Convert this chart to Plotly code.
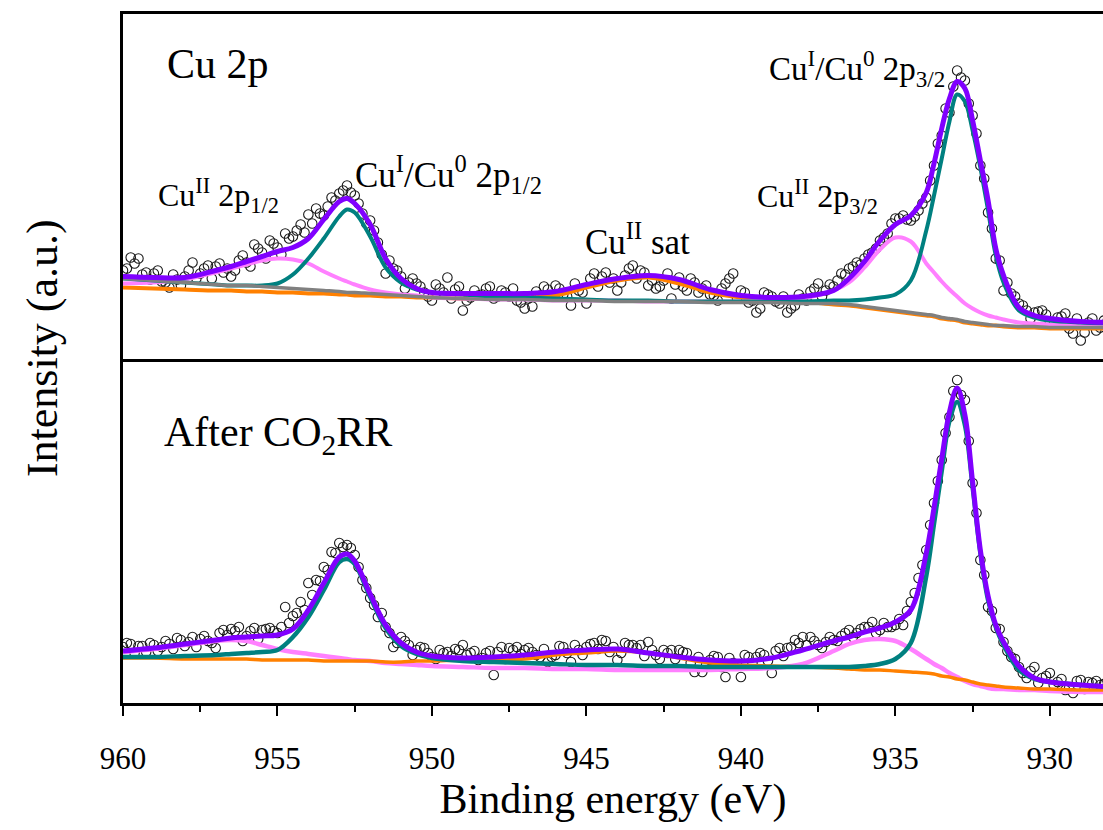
import plotly.graph_objects as go
from plotly.subplots import make_subplots

# ---------------- data ----------------
# measured scan, binding energy (eV) - points on the quarter-eV grid
E_SCAN = [960.0, 959.75, 959.5, 959.25, 959.0, 958.75, 958.5, 958.25, 958.0, 957.75,
          957.5, 957.25, 957.0, 956.75, 956.5, 956.25, 956.0, 955.75, 955.5, 955.25,
          955.0, 954.75, 954.5, 954.25, 954.0, 953.75, 953.5, 953.25, 953.0, 952.75,
          952.5, 952.25, 952.0, 951.75, 951.5, 951.25, 951.0, 950.75, 950.5, 950.25,
          950.0, 949.75, 949.5, 949.25, 949.0, 948.75, 948.5, 948.25, 948.0, 947.75,
          947.5, 947.25, 947.0, 946.75, 946.5, 946.25, 946.0, 945.75, 945.5, 945.25,
          945.0, 944.75, 944.5, 944.25, 944.0, 943.75, 943.5, 943.25, 943.0, 942.75,
          942.5, 942.25, 942.0, 941.75, 941.5, 941.25, 941.0, 940.75, 940.5, 940.25,
          940.0, 939.75, 939.5, 939.25, 939.0, 938.75, 938.5, 938.25, 938.0, 937.75,
          937.5, 937.25, 937.0, 936.75, 936.5, 936.25, 936.0, 935.75, 935.5, 935.25,
          935.0, 934.75, 934.5, 934.25, 934.0, 933.75, 933.5, 933.25, 933.0, 932.75,
          932.5, 932.25, 932.0, 931.75, 931.5, 931.25, 931.0, 930.75, 930.5, 930.25,
          930.0, 929.75, 929.5, 929.25, 929.0, 928.75, 928.5, 928.25, 928.0]

# measured scan, the points lying between the quarter-eV points
E_SCAN_MID = [959.875, 959.625, 959.375, 959.125, 958.875, 958.625, 958.375, 958.125, 957.875, 957.625,
              957.375, 957.125, 956.875, 956.625, 956.375, 956.125, 955.875, 955.625, 955.375, 955.125,
              954.875, 954.625, 954.375, 954.125, 953.875, 953.625, 953.375, 953.125, 952.875, 952.625,
              952.375, 952.125, 951.875, 951.625, 951.375, 951.125, 950.875, 950.625, 950.375, 950.125,
              949.875, 949.625, 949.375, 949.125, 948.875, 948.625, 948.375, 948.125, 947.875, 947.625,
              947.375, 947.125, 946.875, 946.625, 946.375, 946.125, 945.875, 945.625, 945.375, 945.125,
              944.875, 944.625, 944.375, 944.125, 943.875, 943.625, 943.375, 943.125, 942.875, 942.625,
              942.375, 942.125, 941.875, 941.625, 941.375, 941.125, 940.875, 940.625, 940.375, 940.125,
              939.875, 939.625, 939.375, 939.125, 938.875, 938.625, 938.375, 938.125, 937.875, 937.625,
              937.375, 937.125, 936.875, 936.625, 936.375, 936.125, 935.875, 935.625, 935.375, 935.125,
              934.875, 934.625, 934.375, 934.125, 933.875, 933.625, 933.375, 933.125, 932.875, 932.625,
              932.375, 932.125, 931.875, 931.625, 931.375, 931.125, 930.875, 930.625, 930.375, 930.125,
              929.875, 929.625, 929.375, 929.125, 928.875, 928.625, 928.375, 928.125]

# intensity (a.u.) of the measured points, upper panel (Cu 2p)
SCAN_TOP = [88, 101, 100, 86, 85, 77, 71, 79, 82, 96,
            85, 93, 92, 86, 82, 98, 96, 114, 106, 118,
            111, 125, 122, 134, 144, 150, 143, 161, 165, 173,
            163, 145, 138, 116, 85, 90, 82, 76, 75, 66,
            58, 70, 81, 69, 48, 61, 63, 70, 60, 68,
            62, 58, 50, 52, 63, 69, 73, 64, 53, 68,
            55, 85, 82, 76, 68, 83, 93, 88, 73, 70,
            78, 60, 81, 68, 76, 70, 64, 58, 75, 85,
            68, 56, 46, 66, 62, 55, 46, 53, 60, 67,
            75, 68, 72, 85, 90, 96, 100, 106, 118, 125,
            140, 143, 138, 148, 161, 193, 223, 246, 288, 278,
            243, 193, 146, 100, 68, 65, 55, 48, 46, 48,
            36, 41, 45, 25, 18, 36, 28, 38, 33]
SCAN_TOP_MID = [90, 95, 84, 79, 88, 76, 84, 73, 88, 80,
                90, 80, 95, 90, 88, 103, 92, 110, 100, 115,
                104, 120, 128, 126, 135, 145, 152, 158, 168, 166,
                155, 135, 128, 104, 98, 88, 70, 80, 72, 62,
                74, 66, 60, 72, 58, 68, 64, 72, 62, 66,
                70, 56, 60, 67, 72, 62, 70, 62, 75, 66,
                80, 72, 86, 80, 76, 90, 80, 86, 78, 72,
                85, 74, 72, 80, 66, 73, 63, 70, 80, 60,
                66, 58, 50, 64, 57, 62, 50, 64, 58, 70,
                62, 74, 78, 84, 92, 94, 104, 110, 121, 135,
                140, 139, 142, 155, 178, 215, 250, 272, 281, 255,
                225, 180, 130, 98, 76, 62, 53, 40, 47, 44,
                34, 42, 30, 40, 26, 40, 31, 38]

# intensity (a.u.) of the measured points, lower panel (After CO2RR)
SCAN_BOT = [56, 59, 57, 51, 58, 56, 59, 65, 57, 66,
            64, 62, 55, 73, 74, 76, 67, 75, 73, 75,
            70, 96, 87, 101, 120, 123, 136, 151, 160, 158,
            148, 123, 105, 86, 76, 56, 66, 58, 53, 55,
            46, 53, 51, 54, 58, 50, 43, 50, 28, 56,
            55, 56, 53, 51, 46, 41, 48, 56, 41, 53,
            56, 60, 63, 51, 43, 60, 58, 58, 61, 48,
            53, 53, 53, 50, 31, 31, 43, 46, 26, 40,
            26, 46, 46, 48, 30, 55, 55, 63, 66, 66,
            58, 61, 63, 67, 73, 70, 76, 81, 73, 76,
            78, 78, 101, 125, 153, 200, 243, 286, 323, 303,
            220, 143, 96, 75, 61, 46, 36, 25, 36, 25,
            30, 21, 13, 10, 23, 21, 22, 19, 19]
SCAN_BOT_MID = [60, 50, 57, 60, 52, 62, 54, 63, 61, 56,
                67, 60, 70, 68, 72, 62, 72, 64, 74, 72,
                76, 80, 90, 93, 108, 122, 133, 150, 156, 155,
                136, 115, 98, 90, 70, 60, 62, 48, 56, 50,
                44, 50, 47, 53, 48, 52, 45, 52, 51, 44,
                53, 49, 55, 48, 54, 46, 57, 50, 58, 48,
                59, 54, 62, 56, 50, 58, 55, 47, 53, 44,
                50, 44, 51, 40, 46, 38, 47, 36, 45, 38,
                48, 40, 50, 42, 52, 47, 56, 60, 58, 62,
                55, 66, 62, 70, 66, 74, 76, 70, 80, 76,
                84, 92, 110, 138, 178, 222, 270, 312, 308, 262,
                190, 128, 92, 74, 52, 44, 30, 32, 20, 27,
                18, 24, 15, 22, 14, 20, 18, 21]

# fitted curves, binding energy (eV)
E_FIT = [960, 959, 958, 957, 956.5, 956, 955.5, 955, 954.5, 954,
         953.5, 953, 952.75, 952.5, 952, 951.5, 951, 950.5, 950, 949,
         948, 947, 946, 945, 944, 943, 942, 941, 940, 939,
         938, 937, 936.5, 936, 935.5, 935, 934.5, 934, 933.75, 933.5,
         933.25, 933, 932.75, 932.5, 932.25, 932, 931.75, 931.5,
         931, 930.5, 930, 929, 928]

# upper panel fit
TOP_ENVELOPE = [82, 81, 81, 88, 92, 97, 102, 107, 111, 120,
                139, 157, 160, 155, 134, 100, 80, 70, 66, 65,
                65, 65, 67, 74, 80, 83, 79, 69, 63, 61,
                62, 68, 80, 97, 118, 134, 143, 166, 195, 230,
                260, 277, 270, 238, 198, 158, 110, 83,
                51, 43, 40, 37, 36]
TOP_CU_I = [80, 78, 76, 74, 73, 73, 73, 75, 84, 100,
            120, 142, 149, 146, 122, 91, 76, 69, 66, 64,
            62, 61, 60, 59, 58, 58, 57, 57, 57, 57,
            57, 58, 58, 59, 61, 64, 78, 128, 163, 200,
            237, 264, 257, 228, 191, 148, 103, 76,
            48, 41, 38, 36, 35]
TOP_CU_II = [75, 76, 79, 86, 90, 94, 98, 100, 99, 95,
             87, 80, 77, 74, 69, 66, 64, 63, 61, 60,
             59, 59, 58, 58, 58, 57, 57, 57, 57, 58,
             60, 68, 76, 91, 109, 121, 117, 95, 86, 77,
             69, 62, 55, 50, 46, 43, 41, 39,
             36, 35, 34, 33, 33]
TOP_SAT = [71, 70, 69, 68, 68, 67, 67, 66, 66, 65,
           65, 64, 64, 63, 63, 62, 62, 61, 61, 60,
           60, 61, 63, 71, 78, 81, 75, 66, 61, 58,
           57, 54, 53, 51, 49, 47, 45, 43, 42, 40,
           39, 38, 36, 35, 34, 33, 33, 32,
           31, 31, 30, 30, 30]
TOP_BG = [80, 78, 76, 74, 73, 73, 72, 71, 70, 69,
          68, 67, 66, 66, 65, 64, 63, 62, 61, 60,
          59, 59, 58, 58, 57, 57, 57, 56, 56, 56,
          55, 55, 54, 52, 50, 48, 46, 44, 43, 41,
          40, 39, 37, 36, 35, 34, 33, 33,
          32, 32, 31, 31, 31]

# lower panel fit
BOT_ENVELOPE = [52, 55, 59, 63, 65, 66, 67, 68, 74, 93,
                120, 146, 149, 142, 109, 78, 60, 51, 47, 45,
                46, 48, 51, 53, 54, 50, 46, 43, 42, 45,
                53, 62, 66, 71, 75, 81, 93, 150, 195, 244,
                291, 315, 288, 221, 153, 107, 78, 61,
                37, 25, 21, 18, 16]
BOT_CU_I = [46, 46, 47, 48, 49, 50, 51, 53, 66, 86,
            113, 141, 144, 139, 106, 75, 57, 49, 45, 42,
            41, 40, 39, 38, 38, 37, 37, 36, 36, 36,
            36, 36, 36, 37, 39, 44, 60, 127, 179, 232,
            282, 301, 278, 216, 150, 103, 76, 58,
            33, 24, 21, 18, 16]
BOT_CU_II = [51, 54, 58, 62, 63, 62, 58, 54, 51, 49,
             47, 45, 44, 43, 42, 40, 39, 38, 37, 36,
             35, 35, 34, 34, 33, 33, 33, 33, 34, 35,
             39, 52, 59, 63, 64, 62, 54, 44, 39, 35,
             30, 26, 22, 19, 17, 15, 14, 14,
             13, 13, 12, 11, 11]
BOT_SAT = [45, 45, 44, 44, 44, 44, 43, 43, 43, 43,
           42, 42, 42, 42, 42, 41, 41, 42, 42, 43,
           43, 44, 48, 50, 52, 50, 45, 40, 38, 37,
           36, 35, 34, 33, 33, 32, 31, 30, 29, 27,
           26, 24, 23, 21, 19, 18, 17, 16,
           15, 14, 14, 13, 13]

X_TICKS = [960, 955, 950, 945, 940, 935, 930]

for arr in (SCAN_TOP, SCAN_BOT):
    assert len(arr) == len(E_SCAN)
for arr in (SCAN_TOP_MID, SCAN_BOT_MID):
    assert len(arr) == len(E_SCAN_MID)
for arr in (TOP_ENVELOPE, TOP_CU_I, TOP_CU_II, TOP_SAT, TOP_BG,
            BOT_ENVELOPE, BOT_CU_I, BOT_CU_II, BOT_SAT):
    assert len(arr) == len(E_FIT)

# ---------------- styles ----------------
SERIF = "Liberation Serif, Times New Roman, serif"
PURPLE = "#8000FF"
TEAL = "#008080"
PINK = "#FF80FF"
ORANGE = "#FF8000"
GRAY = "#808080"

fig = make_subplots(rows=2, cols=1, shared_xaxes=True, vertical_spacing=0)


def scan(row, y, y_mid):
    fig.add_trace(go.Scatter(
        x=E_SCAN + E_SCAN_MID, y=y + y_mid, mode="markers", showlegend=False,
        hoverinfo="skip",
        marker=dict(symbol="circle-open", size=9.5, color="#1a1a1a",
                    line=dict(width=1.1))), row=row, col=1)


def curve(row, y, color, width):
    fig.add_trace(go.Scatter(
        x=E_FIT, y=y, mode="lines", showlegend=False, hoverinfo="skip",
        line=dict(color=color, width=width, shape="spline", smoothing=1.0)),
        row=row, col=1)


scan(1, SCAN_TOP, SCAN_TOP_MID)
curve(1, TOP_SAT, ORANGE, 4)
curve(1, TOP_CU_II, PINK, 4)
curve(1, TOP_CU_I, TEAL, 4)
curve(1, TOP_BG, GRAY, 3.5)
curve(1, TOP_ENVELOPE, PURPLE, 5)

scan(2, SCAN_BOT, SCAN_BOT_MID)
curve(2, BOT_CU_II, PINK, 4.5)
curve(2, BOT_SAT, ORANGE, 3.5)
curve(2, BOT_CU_I, TEAL, 4.5)
curve(2, BOT_ENVELOPE, PURPLE, 5)

XR = [960, 928.28]
fig.update_xaxes(range=XR, showgrid=False, zeroline=False,
                 showline=True, linecolor="black", linewidth=2.5)
fig.update_xaxes(row=1, col=1, mirror=True, ticks="", showticklabels=False)
fig.update_xaxes(
    row=2, col=1, ticks="outside", ticklen=10, tickwidth=2, tickcolor="black",
    tickmode="array", tickvals=X_TICKS, ticktext=[str(t) for t in X_TICKS],
    tickfont=dict(family=SERIF, size=31, color="black"), ticklabelstandoff=16,
    minor=dict(ticks="outside", ticklen=6, tickwidth=2, tickcolor="black",
               dtick=2.5, tick0=960),
    title=dict(text="Binding energy (eV)", standoff=8,
               font=dict(family=SERIF, size=42, color="black")))
fig.update_yaxes(range=[0, 344.5], showgrid=False, zeroline=False,
                 showline=True, linecolor="black", linewidth=2.5,
                 ticks="", showticklabels=False)

ann = []


def label(text, x, y, size, ref):
    ann.append(dict(text=text, x=x, y=y, xref="x" + ref, yref="y" + ref,
                    xanchor="left", yanchor="middle", showarrow=False,
                    font=dict(family=SERIF, size=size, color="black")))


label("Cu 2p", 958.64, 295, 42, "")
label("Cu<sup>II</sup> 2p<sub>1/2</sub>", 958.93, 163, 32, "")
label("Cu<sup>I</sup>/Cu<sup>0</sup> 2p<sub>1/2</sub>", 952.56, 184, 35, "")
label("Cu<sup>II</sup> sat", 945.1, 119, 35, "")
label("Cu<sup>II</sup> 2p<sub>3/2</sub>", 939.55, 162, 32, "")
label("Cu<sup>I</sup>/Cu<sup>0</sup> 2p<sub>3/2</sub>", 939.16, 290, 33, "")
label("After CO<sub>2</sub>RR", 958.74, 268, 42, "2")

ann.append(dict(text="Intensity (a.u.)", x=-0.0827, y=0.515, xref="paper",
                yref="paper", textangle=-90, xanchor="center", yanchor="middle",
                showarrow=False, font=dict(family=SERIF, size=44, color="black")))

fig.update_layout(
    width=1103, height=830,
    margin=dict(l=123, r=0, t=14, b=127),
    paper_bgcolor="white", plot_bgcolor="white",
    showlegend=False, annotations=ann)

fig.write_html("out.html")
